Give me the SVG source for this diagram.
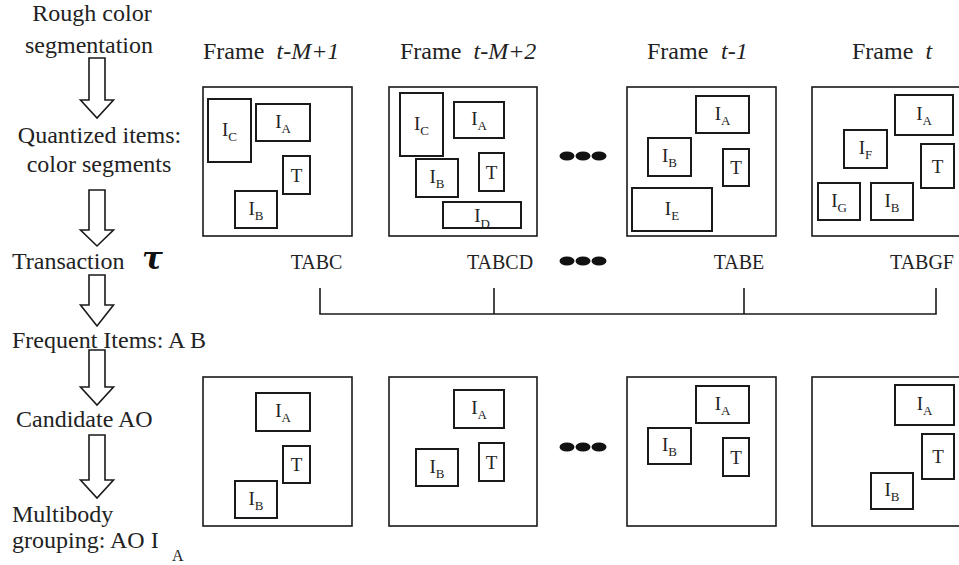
<svg xmlns="http://www.w3.org/2000/svg" width="959" height="565" viewBox="0 0 959 565">
<style>
.t{font-family:"Liberation Serif","Times New Roman",serif;fill:#222;font-size:24px}
.i{font-style:italic}
.tr{font-family:"Liberation Serif","Times New Roman",serif;fill:#222;font-size:20px;text-anchor:middle}
.frame{fill:none;stroke:#1a1a1a;stroke-width:1.6}
.box{fill:none;stroke:#1a1a1a;stroke-width:2}
.lb{font-family:"Liberation Serif","Times New Roman",serif;fill:#222;font-size:19px;text-anchor:middle}
.sub{font-size:13px}
.arrow{fill:#fff;stroke:#1a1a1a;stroke-width:1.6;stroke-linejoin:miter}
.line{fill:none;stroke:#1a1a1a;stroke-width:1.6}
.dot{fill:#111}
</style>
<rect width="959" height="565" fill="#fff"/>

<g id="steps">
  <text class="t" x="92" y="21" text-anchor="middle">Rough color</text>
  <text class="t" x="89" y="53" text-anchor="middle">segmentation</text>
  <text class="t" x="99.5" y="143" text-anchor="middle">Quantized items:</text>
  <text class="t" x="99" y="172" text-anchor="middle">color segments</text>
  <text class="t" x="12" y="269">Transaction</text>
  <text x="142" y="269" style="font-family:'DejaVu Serif',serif;font-style:italic;font-weight:bold;font-size:31px;fill:#111">τ</text>
  <text class="t" x="12" y="348">Frequent Items: A B</text>
  <text class="t" x="16" y="427">Candidate AO</text>
  <text class="t" x="12" y="522">Multibody</text>
  <text class="t" x="12" y="548">grouping: AO I<tspan class="sub" style="font-size:16px" x="172" y="561">A</tspan></text>
</g>

<g id="titles">
  <text class="t" x="203" y="59">Frame<tspan class="i" x="276.5">t-M+1</tspan></text>
  <text class="t" x="400" y="59">Frame<tspan class="i" x="473.5">t-M+2</tspan></text>
  <text class="t" x="647" y="59">Frame<tspan class="i" x="721">t-1</tspan></text>
  <text class="t" x="852" y="59">Frame<tspan class="i" x="925.5">t</tspan></text>
</g>

<g id="frame-top-1">
  <rect class="frame" x="203" y="87" width="149" height="149"/>
  <rect class="box" x="208" y="99" width="43" height="63"/><text class="lb" x="229.5" y="135.5">I<tspan class="sub" dy="5">C</tspan></text>
  <rect class="box" x="256" y="104" width="54" height="37"/><text class="lb" x="283" y="127.5">I<tspan class="sub" dy="5">A</tspan></text>
  <rect class="box" x="283" y="156" width="27" height="38"/><text class="lb" x="296.5" y="181.5">T</text>
  <rect class="box" x="235" y="191" width="42" height="37"/><text class="lb" x="256" y="214.5">I<tspan class="sub" dy="5">B</tspan></text>
</g>
<g id="frame-top-2">
  <rect class="frame" x="389" y="87" width="148" height="149"/>
  <rect class="box" x="400" y="93" width="43" height="63"/><text class="lb" x="421.5" y="129.5">I<tspan class="sub" dy="5">C</tspan></text>
  <rect class="box" x="454" y="102" width="50" height="36"/><text class="lb" x="479" y="125">I<tspan class="sub" dy="5">A</tspan></text>
  <rect class="box" x="416" y="159" width="42" height="38"/><text class="lb" x="437" y="183">I<tspan class="sub" dy="5">B</tspan></text>
  <rect class="box" x="479" y="153" width="25" height="38"/><text class="lb" x="491.5" y="178.5">T</text>
  <text class="lb" x="482" y="222">I<tspan class="sub" dy="6">D</tspan></text>
  <rect class="box" x="443" y="202" width="78" height="26"/>
</g>
<g id="frame-top-3">
  <rect class="frame" x="627" y="87" width="149" height="149"/>
  <rect class="box" x="696" y="96" width="53" height="37"/><text class="lb" x="722.5" y="119.5">I<tspan class="sub" dy="5">A</tspan></text>
  <rect class="box" x="648" y="138" width="43" height="38"/><text class="lb" x="669.5" y="162">I<tspan class="sub" dy="5">B</tspan></text>
  <rect class="box" x="723" y="149" width="26" height="37"/><text class="lb" x="736" y="174">T</text>
  <rect class="box" x="632" y="188" width="80" height="43"/><text class="lb" x="672" y="214.5">I<tspan class="sub" dy="5">E</tspan></text>
</g>
<g id="frame-top-4">
  <rect class="frame" x="812" y="87" width="149" height="149"/>
  <rect class="box" x="895" y="95" width="58" height="40"/><text class="lb" x="924" y="120">I<tspan class="sub" dy="5">A</tspan></text>
  <rect class="box" x="844" y="130" width="43" height="38"/><text class="lb" x="865.5" y="154">I<tspan class="sub" dy="5">F</tspan></text>
  <rect class="box" x="921" y="144" width="33" height="44"/><text class="lb" x="937.5" y="172.5">T</text>
  <rect class="box" x="818" y="183" width="42" height="37"/><text class="lb" x="839" y="206.5">I<tspan class="sub" dy="5">G</tspan></text>
  <rect class="box" x="871" y="183" width="42" height="37"/><text class="lb" x="892" y="206.5">I<tspan class="sub" dy="5">B</tspan></text>
</g>

<g id="transactions">
  <text class="tr" x="316.5" y="269">TABC</text>
  <text class="tr" x="500" y="269">TABCD</text>
  <text class="tr" x="739" y="269">TABE</text>
  <text class="tr" x="922" y="269">TABGF</text>
</g>

<g id="frame-bottom-1">
  <rect class="frame" x="203" y="377" width="149" height="149"/>
  <rect class="box" x="256" y="393" width="54" height="38"/><text class="lb" x="283" y="417">I<tspan class="sub" dy="5">A</tspan></text>
  <rect class="box" x="283" y="446" width="27" height="37"/><text class="lb" x="296.5" y="471">T</text>
  <rect class="box" x="235" y="481" width="42" height="37"/><text class="lb" x="256" y="504.5">I<tspan class="sub" dy="5">B</tspan></text>
</g>
<g id="frame-bottom-2">
  <rect class="frame" x="389" y="377" width="148" height="149"/>
  <rect class="box" x="454" y="390" width="50" height="38"/><text class="lb" x="479" y="414">I<tspan class="sub" dy="5">A</tspan></text>
  <rect class="box" x="416" y="449" width="42" height="37"/><text class="lb" x="437" y="472.5">I<tspan class="sub" dy="5">B</tspan></text>
  <rect class="box" x="479" y="443" width="25" height="38"/><text class="lb" x="491.5" y="468.5">T</text>
</g>
<g id="frame-bottom-3">
  <rect class="frame" x="627" y="377" width="149" height="149"/>
  <rect class="box" x="696" y="386" width="53" height="37"/><text class="lb" x="722.5" y="409.5">I<tspan class="sub" dy="5">A</tspan></text>
  <rect class="box" x="648" y="428" width="43" height="36"/><text class="lb" x="669.5" y="451">I<tspan class="sub" dy="5">B</tspan></text>
  <rect class="box" x="723" y="438" width="26" height="38"/><text class="lb" x="736" y="463.5">T</text>
</g>
<g id="frame-bottom-4">
  <rect class="frame" x="812" y="377" width="149" height="149"/>
  <rect class="box" x="895" y="385" width="59" height="40"/><text class="lb" x="924.5" y="410">I<tspan class="sub" dy="5">A</tspan></text>
  <rect class="box" x="922" y="434" width="32" height="45"/><text class="lb" x="938" y="463">T</text>
  <rect class="box" x="871" y="473" width="42" height="36"/><text class="lb" x="892" y="496">I<tspan class="sub" dy="5">B</tspan></text>
</g>

<g id="ellipses">
  <ellipse class="dot" cx="567" cy="156" rx="7.5" ry="4.5"/><ellipse class="dot" cx="583" cy="156" rx="7.5" ry="4.5"/><ellipse class="dot" cx="599" cy="156" rx="7.5" ry="4.5"/>
  <ellipse class="dot" cx="567" cy="261" rx="7.5" ry="4.5"/><ellipse class="dot" cx="583" cy="261" rx="7.5" ry="4.5"/><ellipse class="dot" cx="599" cy="261" rx="7.5" ry="4.5"/>
  <ellipse class="dot" cx="567" cy="447" rx="7.5" ry="4.5"/><ellipse class="dot" cx="583" cy="447" rx="7.5" ry="4.5"/><ellipse class="dot" cx="599" cy="447" rx="7.5" ry="4.5"/>
</g>

<g id="connectors">
  <path class="arrow" d="M89,58 H105 V100 H113.5 L97,118 L80.5,100 H89 Z"/>
  <path class="arrow" d="M89,190 H105 V230 H113.5 L97,246 L80.5,230 H89 Z"/>
  <path class="arrow" d="M89,275 H105 V305 H113.5 L97,326 L80.5,305 H89 Z"/>
  <path class="arrow" d="M89,350 H105 V387 H113.5 L97,405 L80.5,387 H89 Z"/>
  <path class="arrow" d="M89,435 H105 V480 H113.5 L97,498 L80.5,480 H89 Z"/>
  <path class="line" d="M320,288 V314 H936 V288 M494,288 V314 M744,288 V314"/>
</g>
</svg>
